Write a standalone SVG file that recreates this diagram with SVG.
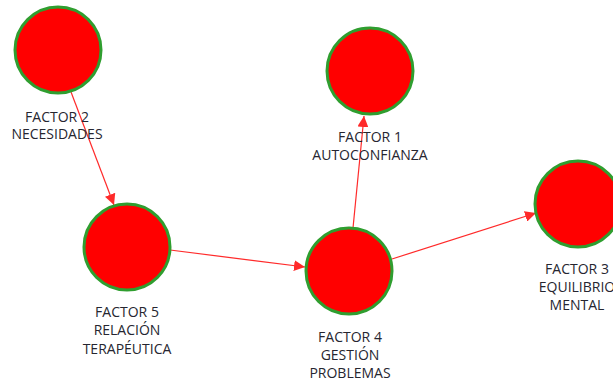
<svg xmlns="http://www.w3.org/2000/svg" width="613" height="383" viewBox="0 0 613 383">
  <style>
    .node circle { fill: #ff0000; stroke: #2f9e2f; stroke-width: 3; }
    .node text { font-family: "Open Sans", "Liberation Sans", sans-serif; font-size: 14px; fill: #262630; text-anchor: middle; }
    .edge { stroke: #ff2a2a; stroke-width: 1.2; fill: none; marker-end: url(#arrow); }
  </style>
  <defs>
    <marker id="arrow" viewBox="0 0 10 10" refX="10" refY="5" markerWidth="11" markerHeight="11" markerUnits="userSpaceOnUse" orient="auto">
      <path d="M0,0 L10,5 L0,10 z" fill="#ff2a2a"/>
    </marker>
  </defs>
  <rect width="613" height="383" fill="#ffffff"/>

  <g id="connectors">
    <line class="edge" x1="71" y1="92" x2="114" y2="205"/>
    <line class="edge" x1="170" y1="250" x2="305" y2="267"/>
    <line class="edge" x1="353" y1="228" x2="364" y2="116"/>
    <line class="edge" x1="392" y1="259" x2="536" y2="213"/>
  </g>

  <g id="factor2" class="node">
    <circle cx="58" cy="50" r="43"/>
    <text x="57" y="122">FACTOR 2</text>
    <text x="57" y="139">NECESIDADES</text>
  </g>

  <g id="factor5" class="node">
    <circle cx="127" cy="247" r="43"/>
    <text x="127" y="317">FACTOR 5</text>
    <text x="127" y="335">RELACIÓN</text>
    <text x="127" y="354">TERAPÉUTICA</text>
  </g>

  <g id="factor4" class="node">
    <circle cx="349" cy="271" r="43"/>
    <text x="350" y="342">FACTOR 4</text>
    <text x="350" y="360">GESTIÓN</text>
    <text x="350" y="378">PROBLEMAS</text>
  </g>

  <g id="factor1" class="node">
    <circle cx="370" cy="71" r="43"/>
    <text x="370" y="142">FACTOR 1</text>
    <text x="370" y="160">AUTOCONFIANZA</text>
  </g>

  <g id="factor3" class="node">
    <circle cx="578" cy="204" r="43"/>
    <text x="577" y="274">FACTOR 3</text>
    <text x="577" y="292">EQUILIBRIO</text>
    <text x="577" y="310">MENTAL</text>
  </g>
</svg>
